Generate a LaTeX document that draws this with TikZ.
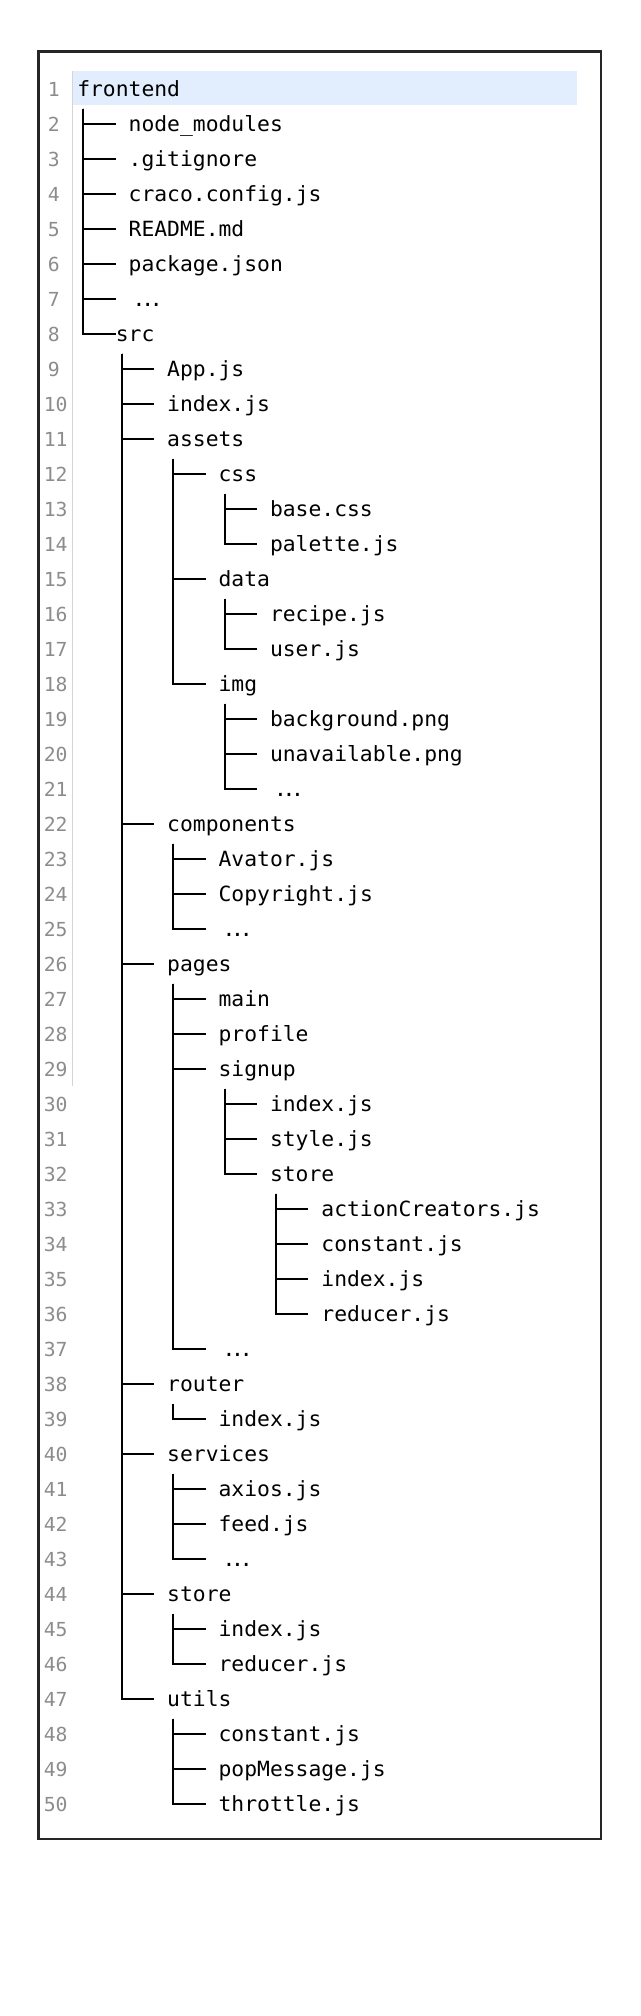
\documentclass[tikz,border=0pt]{standalone}
\usepackage{fontspec}
\usetikzlibrary{calc}
\newfontfamily\treefont[FakeStretch=1.02]{DejaVu Sans Mono}
\definecolor{rowhl}{HTML}{E2EDFE}
\definecolor{numgray}{HTML}{8C8C8C}
\definecolor{gutter}{HTML}{D4D4D4}
\definecolor{framec}{HTML}{262626}
\newcommand\cw{12.85}
\newcommand\treedots{\kern3pt.\kern-3.2pt.\kern-3.2pt.}
\tikzset{
  entry/.style={anchor=west,inner sep=0pt,text height=12pt,text depth=1pt,
    font=\treefont\fontsize{15.7pt}{15.7pt}\selectfont},
  lineno/.style={entry,text=numgray,font=\treefont\fontsize{14.5pt}{14.5pt}\selectfont},
  branch/.style={line width=1.4pt}
}
\begin{document}
\begin{tikzpicture}[x=0.75pt,y=-0.75pt]
    \useasboundingbox (0,0) rectangle (640,2016);
    \pgfmathsetmacro{\xo}{77}
    \pgfmathsetmacro{\yo}{88.7}

    \draw[framec,line width=1.9pt] (38.5,51.7) rectangle (601,1839);
    \fill[rowhl] (73,71) rectangle (577,105);
    \draw[gutter,line width=0.8pt] (72.5,71) -- (72.5,1086);

    % line numbers
    \foreach \i in {1,...,9}
      \node[lineno] (n\i) at (47.5,{\yo+(\i-1)*35}) {\i};
    \foreach \i in {10,...,50}
      \node[lineno] (n\i) at (43.5,{\yo+(\i-1)*35}) {\i};

    % entries: row/column/name/text
    \foreach \row/\col/\nm/\txt in {
        1/0/frontend/frontend, 2/4/nodemods/node\_modules, 3/4/gitignore/.gitignore,
        4/4/craco/craco.config.js, 5/4/readme/README.md, 6/4/pkg/package.json,
        7/4/more1/\treedots, 8/3/src/src, 9/7/app/App.js, 10/7/index/index.js,
        11/7/assets/assets, 12/11/css/css, 13/15/basecss/base.css,
        14/15/palette/palette.js, 15/11/data/data, 16/15/recipe/recipe.js,
        17/15/user/user.js, 18/11/img/img, 19/15/bg/background.png,
        20/15/unavail/unavailable.png, 21/15/more2/\treedots, 22/7/components/components,
        23/11/avator/Avator.js, 24/11/copyright/Copyright.js, 25/11/more3/\treedots,
        26/7/pages/pages, 27/11/main/main, 28/11/profile/profile, 29/11/signup/signup,
        30/15/suindex/index.js, 31/15/sustyle/style.js, 32/15/sustore/store,
        33/19/actions/actionCreators.js, 34/19/suconst/constant.js,
        35/19/sustoreindex/index.js, 36/19/sureducer/reducer.js, 37/11/more4/\treedots,
        38/7/router/router, 39/11/routerindex/index.js, 40/7/services/services,
        41/11/axios/axios.js, 42/11/feed/feed.js, 43/11/more5/\treedots,
        44/7/store/store, 45/11/storeindex/index.js, 46/11/storereducer/reducer.js,
        47/7/utils/utils, 48/11/utilsconst/constant.js, 49/11/popmsg/popMessage.js,
        50/11/throttle/throttle.js}
      \node[entry] (\nm) at ({\xo+\col*\cw},{\yo+(\row-1)*35}) {\txt};

    % branches parent/child
    \foreach \p/\c in {frontend/nodemods, frontend/gitignore, frontend/craco,
        frontend/readme, frontend/pkg, frontend/more1,
        src/app, src/index, src/assets, src/components, src/pages, src/router,
        src/services, src/store, src/utils,
        assets/css, assets/data, assets/img, css/basecss, css/palette,
        data/recipe, data/user, img/bg, img/unavail, img/more2,
        components/avator, components/copyright, components/more3,
        pages/main, pages/profile, pages/signup, pages/more4,
        signup/suindex, signup/sustyle, signup/sustore,
        sustore/actions, sustore/suconst, sustore/sustoreindex, sustore/sureducer,
        router/routerindex, services/axios, services/feed, services/more5,
        store/storeindex, store/storereducer,
        utils/utilsconst, utils/popmsg, utils/throttle}
      \draw[branch] ($(\p.west)+(0.5*\cw,20)$) |- ($(\c.west)+(-\cw,0)$);
    \draw[branch] ($(frontend.west)+(0.5*\cw,20)$) |- (src.west);
  \end{tikzpicture}
\end{document}
